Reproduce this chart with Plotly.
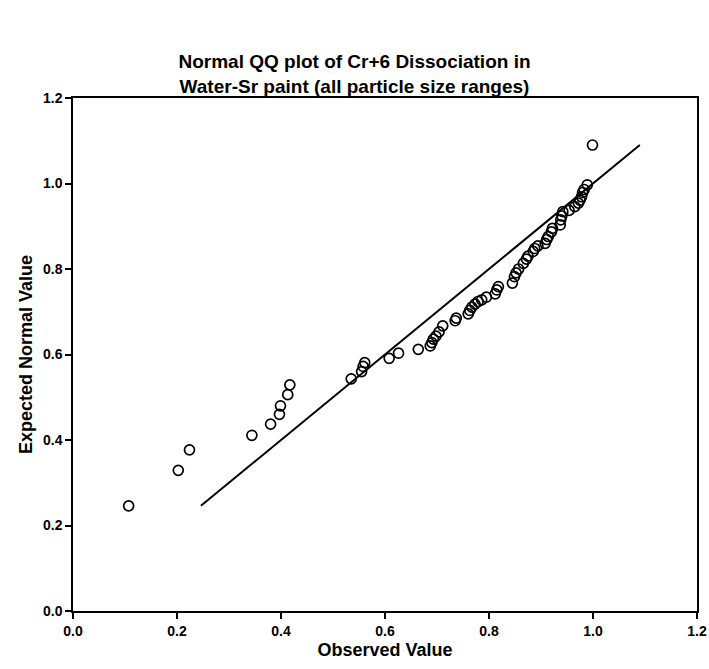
import plotly.graph_objects as go

observed = [0.107, 0.2025, 0.224, 0.344, 0.380, 0.397, 0.399, 0.413, 0.417, 0.535,
            0.555, 0.558, 0.561, 0.608, 0.626, 0.664,
            0.687, 0.690, 0.693, 0.698, 0.704, 0.711, 0.735, 0.737,
            0.760, 0.763, 0.767, 0.773, 0.779, 0.786, 0.795,
            0.812, 0.815, 0.818, 0.845, 0.849, 0.852, 0.857,
            0.866, 0.872, 0.875, 0.885, 0.888, 0.894,
            0.908, 0.911, 0.914, 0.920, 0.922,
            0.937, 0.938, 0.940, 0.942, 0.954,
            0.965, 0.972, 0.975, 0.978, 0.980, 0.983, 0.989, 0.999]
expected = [0.246, 0.329, 0.377, 0.411, 0.437, 0.460, 0.480, 0.506, 0.529, 0.543,
            0.560, 0.572, 0.581, 0.591, 0.603, 0.612,
            0.620, 0.628, 0.636, 0.643, 0.653, 0.667, 0.679, 0.685,
            0.695, 0.703, 0.711, 0.718, 0.724, 0.728, 0.734,
            0.742, 0.751, 0.759, 0.767, 0.782, 0.791, 0.800,
            0.813, 0.823, 0.830, 0.841, 0.848, 0.854,
            0.860, 0.869, 0.876, 0.887, 0.895,
            0.903, 0.915, 0.924, 0.934, 0.937,
            0.946, 0.954, 0.961, 0.969, 0.979, 0.986, 0.997, 1.090]
line_range = [0.246, 1.090]
tick_vals = [0.0, 0.2, 0.4, 0.6, 0.8, 1.0, 1.2]
tick_text = ["0.0", "0.2", "0.4", "0.6", "0.8", "1.0", "1.2"]

font_family = "Liberation Sans, Arial, sans-serif"

fig = go.Figure()
fig.add_trace(go.Scatter(x=line_range, y=line_range, mode="lines",
                         line=dict(color="black", width=2), hoverinfo="skip"))
fig.add_trace(go.Scatter(x=observed, y=expected, mode="markers",
                         marker=dict(symbol="circle-open", size=10,
                                     color="black", line=dict(width=1.7, color="black"))))

axis_common = dict(
    range=[0, 1.2], tickvals=tick_vals, ticktext=["<b>%s</b>" % t for t in tick_text],
    showline=True, linecolor="black", linewidth=1.5, mirror=True,
    ticks="outside", ticklen=6, tickwidth=1.5, tickcolor="black",
    showgrid=False, zeroline=False, automargin=False,
    tickfont=dict(family=font_family, size=14, color="black"),
)

fig.update_layout(
    width=709, height=669,
    margin=dict(l=73, r=12, t=98, b=58),
    paper_bgcolor="white", plot_bgcolor="white",
    showlegend=False,
    title=dict(
        text="<b>Normal QQ plot of Cr+6 Dissociation in<br>Water-Sr paint (all particle size ranges)</b>",
        x=0.5, xanchor="center", y=0.898, yanchor="middle",
        font=dict(family=font_family, size=19, color="black"),
    ),
    xaxis=dict(**axis_common,
               title=dict(text="<b>Observed Value</b>", standoff=6,
                          font=dict(family=font_family, size=18, color="black"))),
    yaxis=dict(**axis_common,
               title=dict(text="<b>Expected Normal Value</b>", standoff=6,
                          font=dict(family=font_family, size=18, color="black"))),
)

fig.write_html("out.html")
